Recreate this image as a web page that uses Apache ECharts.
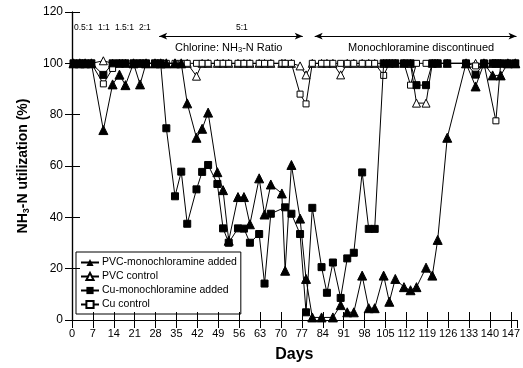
<!DOCTYPE html>
<html>
<head>
<meta charset="utf-8">
<script src="https://cdn.jsdelivr.net/npm/echarts@6/dist/echarts.min.js"></script>
<style>html,body{margin:0;padding:0;background:#fff}#c{width:523px;height:368px}</style>
</head>
<body>
<div id="c"></div>
<script>
const days = [0.5,2.6,4.4,6.5,10.5,13.6,15.9,17.9,20.6,22.8,24.8,27.8,29.7,31.6,34.5,36.6,38.6,41.7,43.6,45.6,48.7,50.6,52.5,55.6,57.6,59.6,62.7,64.5,66.6,70.3,71.4,73.5,76.4,78.4,80.5,83.6,85.4,87.4,90.0,92.2,94.4,97.2,99.4,101.4,104.4,106.3,108.3,111.2,113.4,115.4,118.6,120.7,122.5,125.7,132.0,135.2,138.0,140.9,142.0,143.6,146.0,148.5];
const pvcMono = [100,100,100,100,74,91.8,95.6,91.5,100,91.8,100,100,100,100,100,100,84.4,71,74.5,80.8,57.6,50.6,30.9,47.9,47.9,37.3,55.2,41.1,52.8,49.3,19.2,60.4,39.5,16,1,1,null,1,5.8,3,3,17.3,4.6,4.6,17.3,7.1,16,12.8,11.6,12.8,20.4,17.3,31.2,71,100,91,100,95.3,null,95.3,100,100];
const pvcControl = [100,100,100,100,101,100,100,100,100,100,100,100,100,100,100,100,100,95,100,100,100,100,100,100,100,100,100,100,100,100,100,100,99,95.5,100,100,100,100,95.5,100,100,100,100,100,100,100,100,100,100,84.5,84.5,100,100,100,100,100,100,100,100,100,100,100];
const cuMono = [100,100,100,100,95.5,100,100,100,100,100,100,100,100,74.7,48.2,57.8,37.5,50.9,57.7,60.4,53,35.7,30.1,35.7,35.6,30.1,33.5,14.2,41.4,null,43.9,41.4,33.5,3,43.7,20.6,10.6,22.4,8.6,24,26.2,57.5,35.5,35.5,100,100,100,100,100,91.5,91.5,100,100,100,100,95.6,100,100,100,100,100,100];
const cuControl = [100,100,100,100,92,98,100,100,100,100,100,100,100,100,100,100,100,100,100,100,100,100,100,100,100,100,100,100,100,100,100,100,88,84.2,100,100,100,100,100,100,100,100,100,100,95.3,100,100,100,91.5,100,100,100,100,100,100,99,100,null,77.6,100,100,100];
const seriesNames = ['PVC-monochloramine added','PVC control','Cu-monochloramine added','Cu control'];
const xTicks = {min:0, max:149, step:7};
const yTicks = {min:0, max:120, step:20};

const FONT = 'Liberation Sans, Arial, Helvetica, sans-serif';
function pts(arr){ return days.map((d,i)=>[d,arr[i]]).filter(p=>p[1]!=null); }
const chart = echarts.init(document.getElementById('c'), null, {renderer:'canvas'});
const lineStyle = {color:'#000', width:1};
const option = {
  animation:false,
  textStyle:{fontFamily:FONT, color:'#000'},
  grid:{left:72, right:2, top:12, bottom:41},
  legend:{
    orient:'vertical', left:76, top:252,
    data:seriesNames,
    itemWidth:18, itemHeight:9, itemGap:3,
    padding:[5,4,4,4],
    borderColor:'#000', borderWidth:1,
    textStyle:{fontFamily:FONT, fontSize:10.5, color:'#000', padding:[0,0,0,-2]}
  },
  xAxis:[{
    type:'value', min:xTicks.min, max:xTicks.max, interval:xTicks.step,
    name:'Days', nameLocation:'middle', nameGap:27,
    nameTextStyle:{fontFamily:FONT, fontSize:16, fontWeight:'bold', color:'#000'},
    axisLine:{lineStyle:{color:'#000', width:1.2}},
    axisTick:{inside:true, length:8, lineStyle:{color:'#000', width:1}},
    axisLabel:{color:'#000', fontSize:11, margin:8, showMaxLabel:false, fontFamily:FONT},
    splitLine:{show:false}
  },{
    type:'value', min:xTicks.min, max:xTicks.max, interval:xTicks.step, position:'top',
    axisLine:{lineStyle:{color:'#000', width:1.2}},
    axisTick:{inside:true, length:8, lineStyle:{color:'#000', width:1}},
    axisLabel:{show:false}, splitLine:{show:false}
  }],
  yAxis:[{
    type:'value', min:yTicks.min, max:yTicks.max, interval:yTicks.step,
    name:'NH{sub|3}-N utilization (%)', nameLocation:'middle', nameGap:41,
    nameTextStyle:{fontFamily:FONT, fontSize:14, fontWeight:'bold', color:'#000',
      rich:{sub:{fontFamily:FONT, fontSize:9, fontWeight:'bold', color:'#000', verticalAlign:'bottom', padding:[7,0,0,0]}}},
    axisLine:{show:true, lineStyle:{color:'#000', width:1.2}},
    axisTick:{show:true, inside:true, length:8, lineStyle:{color:'#000', width:1}},
    axisLabel:{color:'#000', fontSize:12, margin:9, fontFamily:FONT},
    splitLine:{show:false}
  },{
    type:'value', min:yTicks.min, max:yTicks.max, interval:yTicks.step, position:'right',
    axisLine:{show:true, lineStyle:{color:'#000', width:1.2}},
    axisTick:{show:true, inside:true, length:7, lineStyle:{color:'#000', width:1}},
    axisLabel:{show:false}, splitLine:{show:false}
  }],
  series:[
    {name:seriesNames[1], type:'line', data:pts(pvcControl), symbol:'triangle', symbolSize:8, connectNulls:true,
      lineStyle:lineStyle, itemStyle:{color:'#fff', borderColor:'#000', borderWidth:1}, z:2,
      markLine:{silent:true, symbol:['arrow','arrow'], symbolSize:[5,8], label:{show:false},
        lineStyle:{color:'#000', width:1, type:'solid'},
        data:[[{coord:[29.2,110.6]},{coord:[77.3,110.6]}],[{coord:[81.3,110.6]},{coord:[148.9,110.6]}]]}},
    {name:seriesNames[3], type:'line', data:pts(cuControl), symbol:'rect', symbolSize:6, connectNulls:true,
      lineStyle:lineStyle, itemStyle:{color:'#fff', borderColor:'#000', borderWidth:1}, z:3},
    {name:seriesNames[0], type:'line', data:pts(pvcMono), symbol:'triangle', symbolSize:9, connectNulls:true,
      lineStyle:lineStyle, itemStyle:{color:'#000', borderColor:'#000'}, z:4},
    {name:seriesNames[2], type:'line', data:pts(cuMono), symbol:'rect', symbolSize:7, connectNulls:true,
      lineStyle:lineStyle, itemStyle:{color:'#000', borderColor:'#000'}, z:5}
  ],
  graphic:[
    {type:'text', left:74, top:23, style:{text:'0.5:1', fontSize:8.5, fontFamily:FONT, fill:'#000'}},
    {type:'text', left:98, top:23, style:{text:'1:1', fontSize:8.5, fontFamily:FONT, fill:'#000'}},
    {type:'text', left:115, top:23, style:{text:'1.5:1', fontSize:8.5, fontFamily:FONT, fill:'#000'}},
    {type:'text', left:139, top:23, style:{text:'2:1', fontSize:8.5, fontFamily:FONT, fill:'#000'}},
    {type:'text', left:236, top:23, style:{text:'5:1', fontSize:8.5, fontFamily:FONT, fill:'#000'}},
    {type:'text', left:175, top:42, style:{text:'Chlorine: NH{sub|3}-N Ratio', fontSize:11, fontFamily:FONT, fill:'#000',
      rich:{sub:{fontSize:7.5, fontFamily:FONT, fill:'#000', verticalAlign:'bottom', padding:[5,0,0,0]}}}},
    {type:'text', left:348, top:42, style:{text:'Monochloramine discontinued', fontSize:11, fontFamily:FONT, fill:'#000'}}
  ]
};
chart.setOption(option);
</script>
</body>
</html>
